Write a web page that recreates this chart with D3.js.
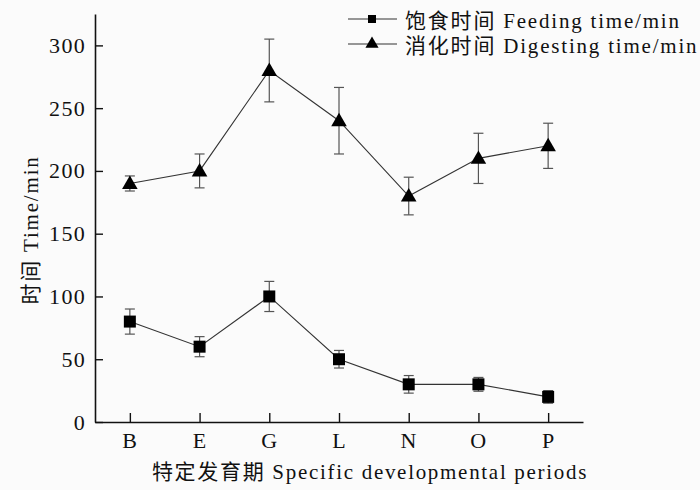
<!DOCTYPE html>
<html><head><meta charset="utf-8">
<script src="https://cdn.jsdelivr.net/npm/d3@7"></script>
<style>
html,body{margin:0;padding:0;background:#fbfbfb;}
svg{display:block;}
text{font-family:"Liberation Serif","Noto Sans CJK SC",serif;fill:#111;}
</style></head>
<body>
<svg id="c" width="700" height="490"></svg>
<script>
const categories = ["B","E","G","L","N","O","P"];
const feeding = [80, 60, 100, 50, 30, 30, 20];
const feedingErr = [10, 8, 12, 7, 7, 5.5, 5];
const digesting = [190, 200, 280, 240, 180, 210, 220];
const digestingErr = [6, 13.5, 25, 26.5, 15, 20, 18];
const yTicks = [0, 50, 100, 150, 200, 250, 300];
const legendLabels = ["饱食时间 Feeding time/min", "消化时间 Digesting time/min"];
const xTitle = "特定发育期 Specific developmental periods";
const yTitle = "时间 Time/min";

const svg = d3.select("#c");
const mLeft = 95, mRight = 583, mTop = 14, mBottom = 422;
const x = d3.scalePoint().domain(categories).range([mLeft, mRight]).padding(0.5);
const y = d3.scaleLinear().domain([0, 325]).range([mBottom, mTop]);

// axes
const xAxis = svg.append("g").attr("transform", `translate(0,${mBottom})`)
  .call(d3.axisBottom(x).tickSizeInner(-9).tickSizeOuter(0).tickPadding(10));
const yAxis = svg.append("g").attr("transform", `translate(${mLeft},0)`)
  .call(d3.axisLeft(y).tickValues(yTicks).tickSizeInner(-8).tickSizeOuter(0).tickPadding(9));
[xAxis, yAxis].forEach(g => {
  g.select(".domain").attr("stroke", "#111").attr("stroke-width", 1.6);
  g.selectAll(".tick line").attr("stroke", "#111").attr("stroke-width", 1.4);
  g.selectAll(".tick text").attr("font-size", 22).attr("fill", "#111")
    .attr("letter-spacing", 1.3)
    .style("font-family", '"Liberation Serif", serif');
});
xAxis.selectAll(".tick text").attr("dy", "0.71em");

// titles
svg.append("text").attr("x", 370).attr("y", 479).attr("text-anchor", "middle")
  .attr("font-size", 21).attr("letter-spacing", 1.7).text(xTitle);
svg.append("text").attr("transform", "translate(38,230) rotate(-90)")
  .attr("text-anchor", "middle").attr("font-size", 21).attr("letter-spacing", 1.8).text(yTitle);

function drawSeries(vals, errs, shape) {
  const g = svg.append("g");
  const line = d3.line().x((d, i) => x(categories[i])).y(d => y(d));
  vals.forEach((v, i) => {
    const cx = x(categories[i]);
    const eb = g.append("g").attr("stroke", "#555").attr("stroke-width", 1.2);
    eb.append("line").attr("x1", cx).attr("x2", cx).attr("y1", y(v + errs[i])).attr("y2", y(v - errs[i]));
    eb.append("line").attr("x1", cx - 5).attr("x2", cx + 5).attr("y1", y(v + errs[i])).attr("y2", y(v + errs[i]));
    eb.append("line").attr("x1", cx - 5).attr("x2", cx + 5).attr("y1", y(v - errs[i])).attr("y2", y(v - errs[i]));
  });
  g.append("path").datum(vals).attr("d", line).attr("fill", "none")
    .attr("stroke", "#333").attr("stroke-width", 1.1);
  const sym = d3.symbol().type(shape).size(shape === d3.symbolSquare ? 144 : 105);
  g.selectAll("path.m").data(vals).join("path").attr("class", "m")
    .attr("transform", (d, i) => `translate(${x(categories[i])},${y(d) + (shape === d3.symbolTriangle ? 1 : 0)})`)
    .attr("d", sym).attr("fill", "#000");
}
drawSeries(feeding, feedingErr, d3.symbolSquare);
drawSeries(digesting, digestingErr, d3.symbolTriangle);

// legend
const legShapes = [d3.symbolSquare, d3.symbolTriangle];
legendLabels.forEach((lab, i) => {
  const ly = 19 + i * 25;
  const g = svg.append("g");
  g.append("line").attr("x1", 348).attr("x2", 397).attr("y1", ly).attr("y2", ly)
    .attr("stroke", "#333").attr("stroke-width", 1.1);
  g.append("path").attr("transform", `translate(372,${ly})`)
    .attr("d", d3.symbol().type(legShapes[i]).size(i === 0 ? 64 : 75)()).attr("fill", "#000");
  g.append("text").attr("x", 405).attr("y", ly + 8.5).attr("font-size", 21)
    .attr("letter-spacing", 1.8).text(lab);
});
</script>
</body></html>
